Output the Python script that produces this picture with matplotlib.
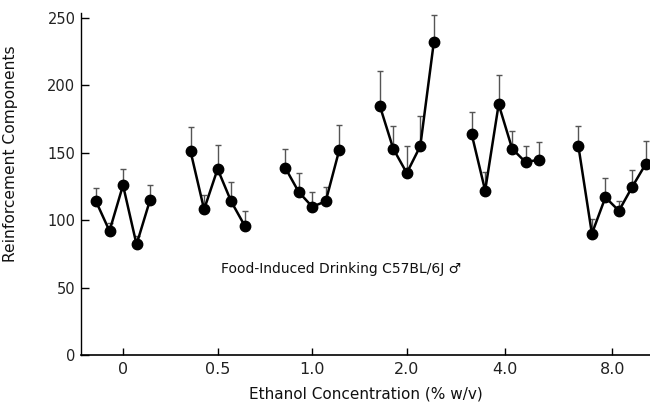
import matplotlib
matplotlib.use("Agg")
import matplotlib.pyplot as plt
import numpy as np

# ---- data ----
concentrations = ["0", "0.5", "1.0", "2.0", "4.0", "8.0"]
mean_0 = [114, 92, 126, 82, 115]
upper_0 = [124, 98, 138, 88, 126]
mean_05 = [151, 108, 138, 114, 96]
upper_05 = [169, 119, 156, 128, 107]
mean_1 = [139, 121, 110, 114, 152]
upper_1 = [153, 135, 121, 125, 171]
mean_2 = [185, 153, 135, 155, 232]
upper_2 = [211, 170, 155, 177, 252]
mean_4 = [164, 122, 186, 153, 143, 145]
upper_4 = [180, 136, 208, 166, 155, 158]
mean_8 = [155, 90, 117, 107, 125, 142]
upper_8 = [170, 101, 131, 114, 137, 159]

y_ticks = [0, 50, 100, 150, 200, 250]

means = [mean_0, mean_05, mean_1, mean_2, mean_4, mean_8]
uppers = [upper_0, upper_05, upper_1, upper_2, upper_4, upper_8]

# ---- layout ----
group_centers = [0, 7, 14, 21, 28.3, 36.2]

plt.rcParams['font.family'] = ['DejaVu Sans']
fig = plt.figure(figsize=(6.5, 4.09), dpi=100)
ax = fig.add_axes([81/650, 54/409, 1 - 81/650, (355 - 11.3)/409])

for c, m, u in zip(group_centers, means, uppers):
    m = np.array(m, float)
    u = np.array(u, float)
    n = len(m)
    x = c + np.arange(n) - (n - 1) / 2
    ax.errorbar(x, m, yerr=[np.zeros(n), u - m], fmt='none',
                ecolor='#555555', elinewidth=1.0, capsize=2, capthick=1.0, zorder=2)
    ax.plot(x, m, '-', color='black', lw=1.8, zorder=3)
    ax.plot(x, m, 'o', color='black', ms=7.5, zorder=4)

ax.set_xlim(-3.11, 39.0)
ax.set_ylim(0, 255)
ax.set_xticks(group_centers)
ax.set_xticklabels(concentrations)
ax.set_yticks(y_ticks)
ax.set_yticklabels([str(v) for v in y_ticks])

for s in ['top', 'right']:
    ax.spines[s].set_visible(False)
ax.spines['left'].set_bounds(0, 254)
ax.spines['left'].set_linewidth(1.0)
ax.spines['bottom'].set_linewidth(1.2)

ax.tick_params(axis='y', direction='in', length=6, width=1, pad=4, labelsize=10.5, labelcolor='#222222')
ax.tick_params(axis='x', direction='in', length=5, width=1, pad=5, labelsize=11.5, labelcolor='#222222')

ax.set_xlabel("Ethanol Concentration (% w/v)", fontsize=11, color='#111111')
ax.xaxis.set_label_coords(0.5, -0.092)
ax.set_ylabel("Reinforcement Components", fontsize=11.2, color='#111111')
ax.yaxis.set_label_coords(-0.111, 0.587)

ax.text((341 - 81) / 569 * 42.11 - 3.11, 64, "Food-Induced Drinking C57BL/6J \u2642",
        ha='center', va='center', fontsize=10, color='#111111')

fig.savefig("out.png", dpi=100)
